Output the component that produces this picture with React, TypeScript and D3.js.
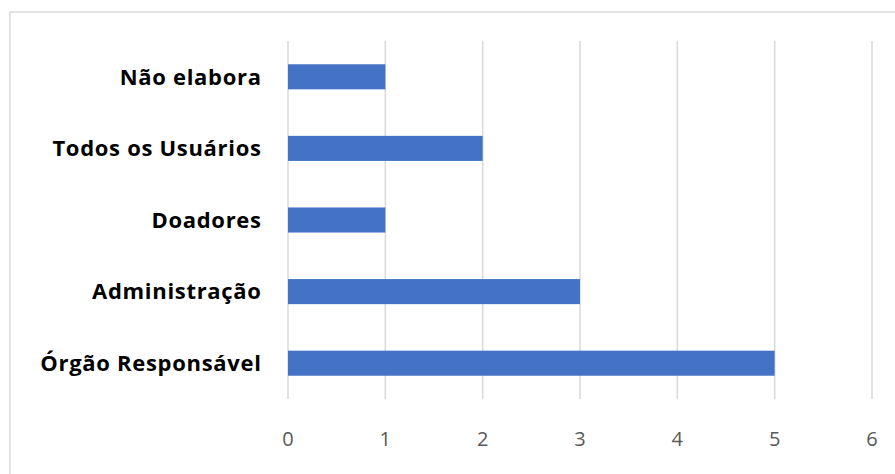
import React from "react";
import * as d3 from "d3";

const categories = ["Não elabora", "Todos os Usuários", "Doadores", "Administração", "Órgão Responsável"];
const values = [1, 2, 1, 3, 5];
const ticks = [0, 1, 2, 3, 4, 5, 6];

export default function App() {
  const W = 895, H = 474;
  const x = d3.scaleLinear().domain([0, 6]).range([288, 872]);
  const y = d3.scaleBand<string>().domain(categories).range([41, 399]).paddingInner(0.65).paddingOuter(0.325);
  return (
    <svg width={W} height={H} style={{ position: "absolute", left: 0, top: 0, display: "block" }}>
      <rect x={0} y={0} width={W} height={H} fill="#fff" />
      <rect x={10} y={12} width={W + 10} height={H + 10} fill="#fff" stroke="#d9d9d9" strokeWidth={1.5} />
      {ticks.map((t) => (
        <line key={t} x1={x(t)} x2={x(t)} y1={41} y2={399} stroke="#d9d9d9" strokeWidth={1.5} />
      ))}
      {categories.map((c, i) => (
        <rect key={c} x={x(0)} y={y(c)!} width={x(values[i]) - x(0)} height={y.bandwidth()} fill="#4472C4" />
      ))}
      {categories.map((c) => (
        <text key={c} x={261.7} y={y(c)! + y.bandwidth() / 2} dy="0.35em" textAnchor="end"
          fontFamily="'Open Sans', sans-serif" fontWeight="bold" fontSize={22} letterSpacing={0.7} fill="#000">{c}</text>
      ))}
      {ticks.map((t) => (
        <text key={t} x={x(t)} y={439} dy="0.36em" textAnchor="middle"
          fontFamily="'Open Sans', sans-serif" fontSize={20} fill="#595959">{t}</text>
      ))}
    </svg>
  );
}
